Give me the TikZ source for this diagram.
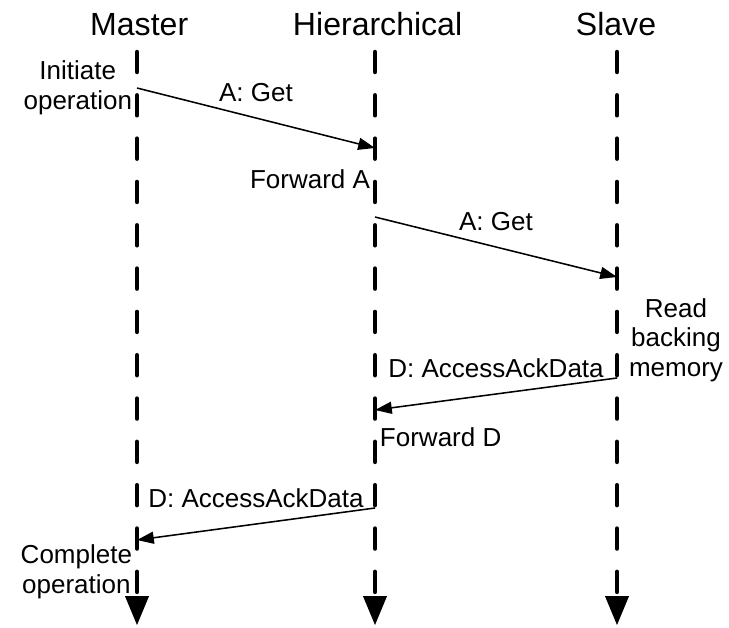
\documentclass[tikz,border=0pt]{standalone}
\usepackage{fontspec}
\setmainfont{Liberation Sans}
\usetikzlibrary{arrows.meta}
\tikzset{
  lane/.style={font=\fontsize{22.8}{27}\selectfont},
  note/.style={font=\fontsize{18.5}{21}\selectfont, align=center},
  lifeline/.style={line width=3.2pt, line cap=round, dash pattern=on 0.5cm off 0.583cm,
    -{Triangle[length=0.72cm,width=0.6cm,line width=0pt 0]}},
  msg/.style={line width=1.1pt, -{Triangle[length=0.42cm,width=0.3cm]}},
  msglabel/.style={note, above=0.28cm}
}
\begin{document}
\begin{tikzpicture}
		\useasboundingbox (0,0) rectangle (18.225,-15.675);
		\node[lane] (master) at (3.48,-0.61) {Master};
		\node[lane] (hier) at (9.44,-0.61) {Hierarchical};
		\node[lane] (slave) at (15.4,-0.61) {Slave};
		\coordinate (master-top) at (3.425,-1.3);
		\coordinate (master-end) at (3.425,-15.625);
		\coordinate (hier-top) at (9.375,-1.3);
		\coordinate (hier-end) at (9.375,-15.625);
		\coordinate (slave-top) at (15.425,-1.3);
		\coordinate (slave-end) at (15.425,-15.625);
		\draw[lifeline] (master-top) -- (master-end);
		\draw[lifeline] (hier-top) -- (hier-end);
		\draw[lifeline] (slave-top) -- (slave-end);
		\coordinate (get-out) at (3.425,-2.2);
		\coordinate (get-in) at (9.375,-3.7);
		\coordinate (fwd-get-out) at (9.375,-5.425);
		\coordinate (fwd-get-in) at (15.425,-6.925);
		\coordinate (ack-out) at (15.425,-9.45);
		\coordinate (ack-in) at (9.375,-10.25);
		\coordinate (fwd-ack-out) at (9.375,-12.7);
		\coordinate (fwd-ack-in) at (3.425,-13.5);
		\draw[msg] (get-out) -- node[msglabel] (get) {A: Get} (get-in);
		\draw[msg] (fwd-get-out) -- node[msglabel] (fwd-get) {A: Get} (fwd-get-in);
		\draw[msg] (ack-out) -- node[msglabel] (ack) {D: AccessAckData} (ack-in);
		\draw[msg] (fwd-ack-out) -- node[msglabel] (fwd-ack) {D: AccessAckData} (fwd-ack-in);
		\node[note, left] (initiate) at (get-out) {Initiate\\operation};
		\node[note, left] (forward-a) at (9.375,-4.475) {Forward A};
		\node[note] (read) at (16.9,-8.5) {Read\\backing\\memory};
		\node[note, right] (forward-d) at (9.375,-10.925) {Forward D};
		\node[note, left] (complete) at (3.425,-14.3) {Complete\\operation};
		\end{tikzpicture}
\end{document}
